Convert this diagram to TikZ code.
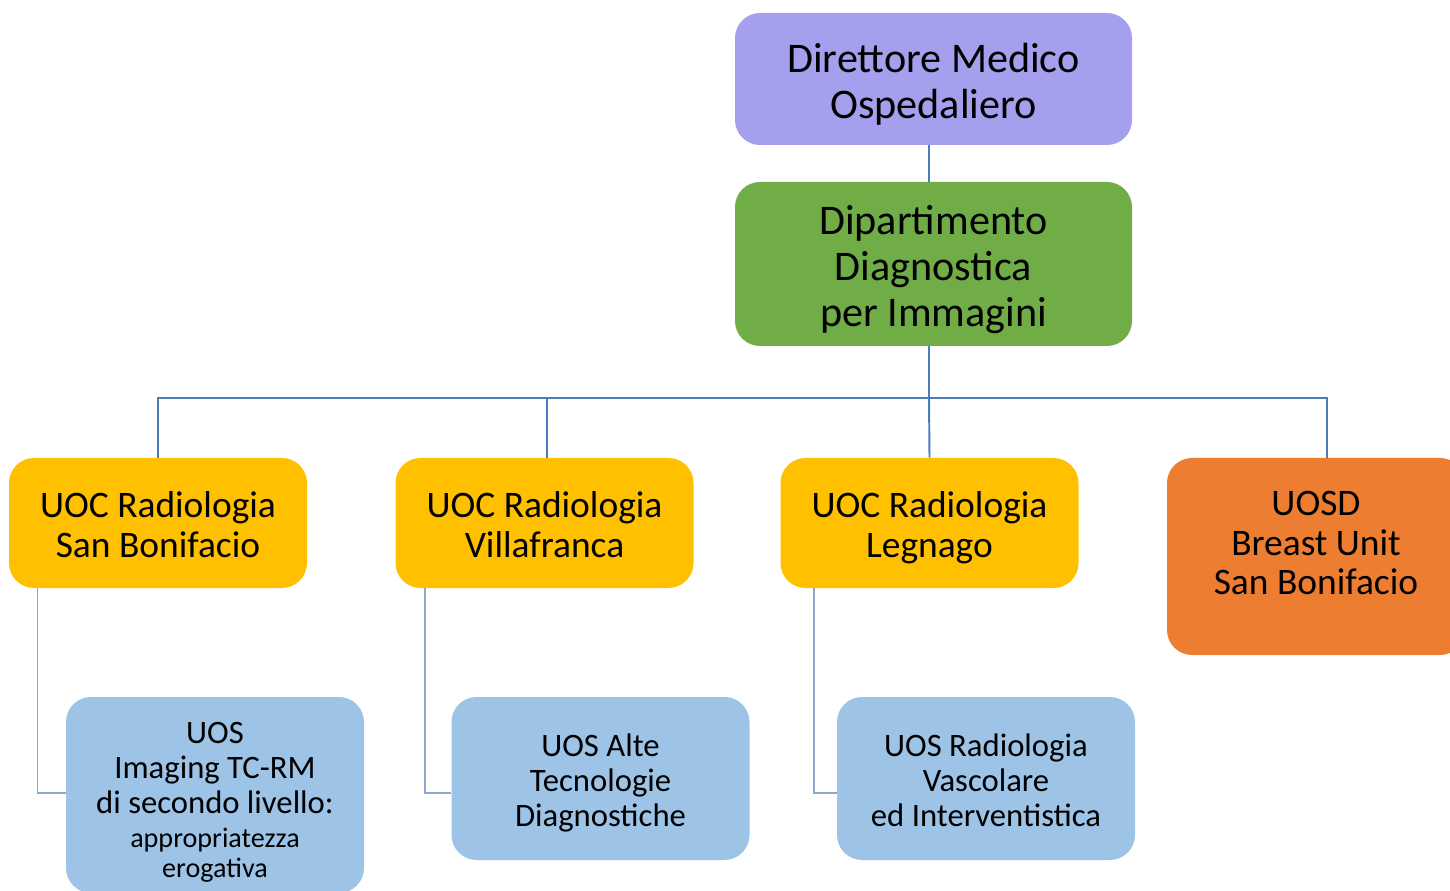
\documentclass[tikz,border=0pt]{standalone}
\usepackage{fontspec}
\setmainfont{Carlito}
\usetikzlibrary{positioning}

\definecolor{lavender}{RGB}{165,160,237}
\definecolor{leafgreen}{RGB}{112,173,71}
\definecolor{amber}{RGB}{255,192,0}
\definecolor{pumpkin}{RGB}{237,125,49}
\definecolor{skyblue}{RGB}{157,195,230}
\definecolor{linkblue}{RGB}{74,126,187}
\definecolor{sublinkblue}{RGB}{140,168,205}

% fixed top line height so that every box sets its text alike
\newcommand{\headroom}{\rule{0pt}{1.1em}}

\tikzset{
	unit/.style={rounded corners=0.5cm, align=center, text=black, inner sep=0pt},
	head/.style={unit, minimum width=7.94cm, font=\fontsize{24}{26}\selectfont},
	uoctext/.style={align=center, text=black, font=\fontsize{21.3}{22.7}\selectfont},
	uoc/.style={unit, fill=amber, minimum width=5.96cm, minimum height=2.6cm, font=\fontsize{21.3}{22.7}\selectfont},
	uos/.style={unit, fill=skyblue, minimum width=5.96cm, font=\fontsize{18.6}{19.8}\selectfont},
	link/.style={draw=linkblue, line width=1.1pt},
	sublink/.style={draw=sublinkblue, line width=0.8pt}
}

\begin{document}
\begin{tikzpicture}

	\useasboundingbox (0,0) rectangle (29,17.8);
	\clip (0,0) rectangle (29,17.8);

	%direction
	\node[head, fill=lavender, minimum height=2.64cm] (dir) at (18.67,16.22) {\headroom Direttore Medico\\Ospedaliero\strut};
	\node[head, fill=leafgreen, minimum height=3.28cm] (dip) at (18.67,12.52) {\headroom Dipartimento\\Diagnostica\\per Immagini\strut};

	%complex units
	\node[uoc] (uocsb) at (3.16,7.34) {\headroom UOC Radiologia\\San Bonifacio\strut};
	\node[uoc] (uocvf) at (10.89,7.34) {\headroom UOC Radiologia\\Villafranca\strut};
	\node[uoc] (uocle) at (18.59,7.34) {\headroom UOC Radiologia\\Legnago\strut};
	\node[uoc, fill=pumpkin, minimum height=3.94cm,
		label={[uoctext, yshift=0.32cm]center:\headroom UOSD\\Breast Unit\\San Bonifacio\strut}] (uosd) at (26.32,6.67) {};

	%simple units
	\node[uos, minimum height=3.92cm] (uossb) at (4.30,1.90) {\headroom UOS\\Imaging TC-RM\\di secondo livello:\\\fontsize{16}{17}\selectfont appropriatezza\\[-2.8pt]\fontsize{16}{17}\selectfont erogativa};
	\node[uos, minimum height=3.26cm] (uosvf) at (12.01,2.23) {\headroom UOS Alte\\Tecnologie\\Diagnostiche\strut};
	\node[uos, minimum height=3.26cm] (uosle) at (19.72,2.23) {\headroom UOS Radiologia\\Vascolare\\ed Interventistica\strut};

	%tree connectors
	\coordinate (bus) at (18.58,9.84);
	\draw[link, line width=1.5pt] (dir.south -| bus) -- (dip.north -| bus);
	\draw[link] (dip.south -| bus) -- (bus);
	\draw[link] (bus) -| (uocsb.north);
	\draw[link] (bus) -| ([xshift=0.05cm]uocvf.north);
	\draw[link] (bus) -- (uocle.north);
	\draw[link] (bus) -| ([xshift=0.22cm]uosd.north);

	%sub connectors
	\draw[sublink] ([xshift=0.58cm]uocsb.south west) |- ([yshift=0.04cm]uossb.west);
	\draw[sublink] ([xshift=0.60cm]uocvf.south west) |- ([yshift=-0.29cm]uosvf.west);
	\draw[sublink] ([xshift=0.68cm]uocle.south west) |- ([yshift=-0.29cm]uosle.west);

\end{tikzpicture}
\end{document}
